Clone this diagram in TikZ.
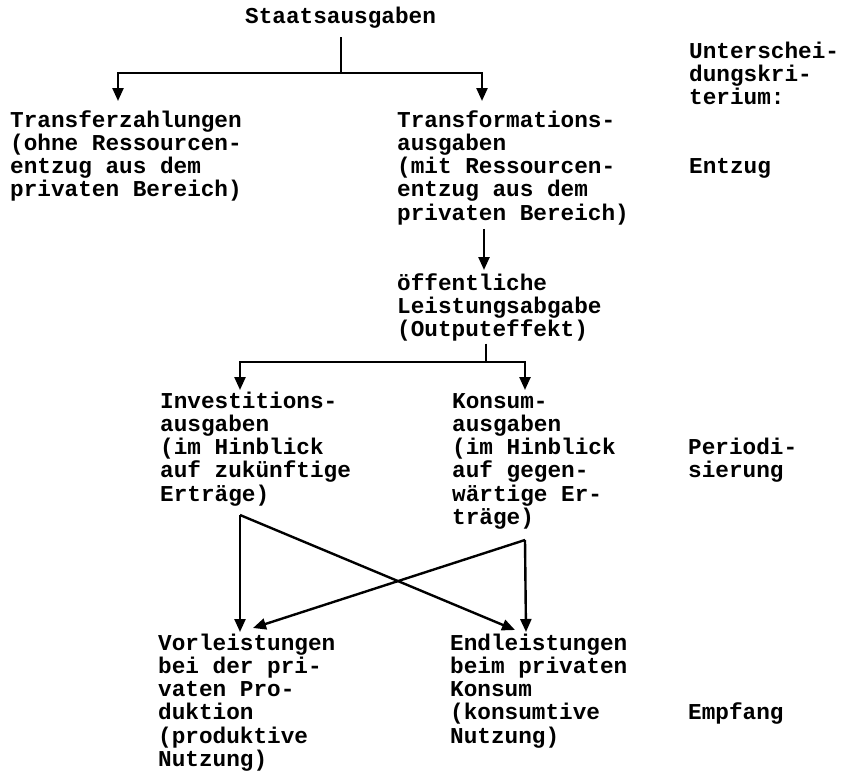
\documentclass[tikz,border=0pt]{standalone}
\usepackage{fontspec}
\setmonofont{Liberation Mono}
\usetikzlibrary{arrows.meta,calc}
\newcommand\firststrut{\rule{0pt}{18pt}}
\begin{document}
\begin{tikzpicture}[x=1pt,y=-1pt,
  txt/.style={anchor=north west, inner sep=0pt, align=left,
    font=\ttfamily\bfseries\fontsize{22.7}{23.2}\selectfont},
  conn/.style={line width=2.4pt},
  arr/.style={conn, -{Triangle[length=13pt,width=11pt]}}]
\useasboundingbox (0,0) rectangle (844,771);

% texts
\node[txt] (staat) at (245,5) {\firststrut Staatsausgaben};
\node[txt] (transfer) at (10,109) {\firststrut Transferzahlungen\\(ohne Ressourcen-\\entzug aus dem\\privaten Bereich)};
\node[txt] (transform) at (397,109) {\firststrut Transformations-\\ausgaben\\(mit Ressourcen-\\entzug aus dem\\privaten Bereich)};
\node[txt] (crit) at (689,40) {\firststrut Unterschei-\\dungskri-\\terium:};
\node[txt] (entzug) at (689,155.4) {\firststrut Entzug};
\node[txt] (oeff) at (397,272) {\firststrut öffentliche\\Leistungsabgabe\\(Outputeffekt)};
\node[txt] (invest) at (160,390) {\firststrut Investitions-\\ausgaben\\(im Hinblick\\auf zukünftige\\Erträge)};
\node[txt] (konsum) at (452,390) {\firststrut Konsum-\\ausgaben\\(im Hinblick\\auf gegen-\\wärtige Er-\\träge)};
\node[txt] (period) at (688,436.4) {\firststrut Periodi-\\sierung};
\node[txt] (vor) at (158,632) {\firststrut Vorleistungen\\bei der pri-\\vaten Pro-\\duktion\\(produktive\\Nutzung)};
\node[txt] (endl) at (450,632) {\firststrut Endleistungen\\beim privaten\\Konsum\\(konsumtive\\Nutzung)};
\node[txt] (empfang) at (688,701.6) {\firststrut Empfang};

% junctions and arrow ends
\coordinate (j1) at (341,73);
\coordinate (ta) at (118,101);
\coordinate (tb) at (482,101);
\coordinate (oa) at (484,270);
\coordinate (j2) at (486,362);
\coordinate (ia2) at (240,390);
\coordinate (ka2) at (525,390);
\coordinate (ia) at (240,515);
\coordinate (ka) at (525,540);
\coordinate (vt) at (240,632);
\coordinate (vd) at (253,628);
\coordinate (et) at (526,632);
\coordinate (ed) at (515,630);

% connectors
\draw[conn] ($(staat.south -| j1)+(0,9)$) -- (j1);
\draw[arr] (j1) -| (ta);
\draw[arr] (j1) -| (tb);
\draw[arr] ($(transform.south -| oa)+(0,4)$) -- (oa);
\draw[conn] ($(oeff.south -| j2)+(0,2)$) -- (j2);
\draw[arr] (j2) -| (ia2);
\draw[arr] (j2) -| (ka2);
\draw[arr] (ia) -- (vt);
\draw[arr] (ia) -- (ed);
\draw[arr] (ka) -- (et);
\draw[arr] (ka) -- (vd);
\end{tikzpicture}
\end{document}
